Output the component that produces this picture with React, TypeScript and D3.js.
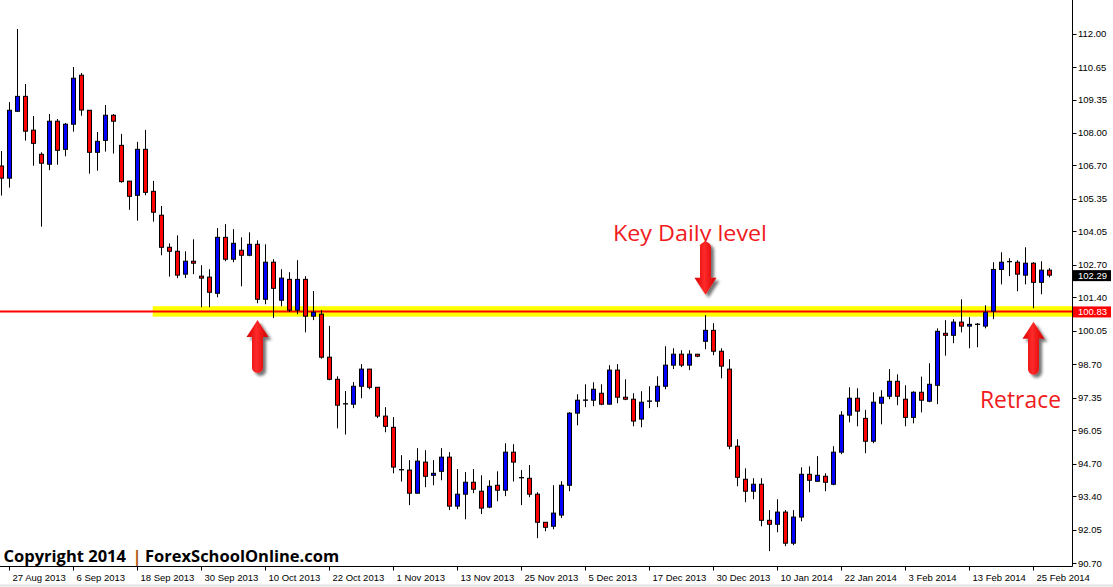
import React from "react";
import * as d3 from "d3";

// ---- data ----
const opens = [106.68,106.19,108.88,109.48,108.12,107.15,106.75,108.48,107.35,108.36,
110.33,108.92,107.23,107.71,108.72,107.51,106.07,105.50,107.35,105.66,
104.70,103.41,103.25,102.33,102.85,102.25,102.21,101.56,103.81,102.93,
103.29,103.09,103.53,101.32,102.81,101.28,102.12,100.88,102.12,100.64,
100.72,98.99,98.10,97.12,97.10,97.82,98.51,97.78,96.62,96.17,
94.47,94.45,93.52,94.77,94.24,94.40,94.97,93.00,93.48,93.96,
93.60,92.96,93.84,93.64,95.17,94.15,94.12,93.48,92.35,92.19,
92.64,93.84,96.74,97.26,97.26,97.54,97.10,98.47,97.38,97.30,
96.50,97.22,97.22,97.82,98.67,99.11,98.67,99.11,99.63,100.07,
99.23,98.51,95.41,94.08,93.60,93.88,92.43,92.27,92.76,91.51,
92.56,94.28,94.00,94.20,93.88,95.17,96.66,97.34,96.53,95.61,
97.14,97.42,98.02,97.30,96.57,97.58,97.22,97.86,99.95,99.87,
100.40,100.24,100.32,100.24,100.84,102.52,102.83,102.81,102.29,102.77,
102.00,102.49];

const closes = [106.19,108.92,109.48,108.08,107.59,106.79,108.48,107.31,108.36,110.21,
108.93,107.23,107.67,108.72,108.48,106.05,105.46,107.35,105.62,104.82,
103.41,103.25,102.29,102.85,102.77,102.17,101.60,103.81,102.93,103.57,
103.09,103.53,101.32,102.81,101.76,102.17,100.88,102.12,100.64,100.80,
98.99,98.10,97.06,97.11,97.82,98.51,97.78,96.62,96.21,94.57,
94.46,93.52,94.81,94.20,94.32,94.97,93.00,93.48,93.96,93.68,
92.92,93.80,93.64,95.17,94.77,94.14,93.48,92.35,92.15,92.72,
93.84,96.74,97.26,97.27,97.70,97.10,98.47,97.38,97.30,96.42,
97.18,97.23,97.82,98.67,99.11,98.67,99.11,99.03,100.07,99.23,
98.63,95.41,94.16,93.60,93.88,92.43,92.27,92.76,91.51,92.56,
94.28,94.04,94.24,93.96,95.17,96.66,97.34,96.82,95.61,97.18,
97.38,98.02,97.42,96.57,97.58,97.26,97.90,100.03,99.87,100.40,
100.24,100.31,100.31,100.80,102.52,102.81,102.84,102.33,102.77,102.00,
102.49,102.29];

const highs = [107.28,109.25,112.19,109.98,108.69,107.23,108.77,108.57,108.41,110.66,
110.42,108.93,108.05,109.13,108.77,107.97,106.08,107.65,108.13,106.08,
105.07,103.57,103.89,103.25,103.73,102.69,102.53,104.18,104.34,104.14,
103.81,104.01,103.69,103.53,102.93,102.53,102.41,102.89,102.25,101.65,
100.88,100.25,98.22,97.63,97.99,98.71,98.52,97.79,96.98,96.58,
95.05,94.85,95.33,95.25,94.85,95.33,95.17,94.49,94.37,94.49,
94.24,94.04,94.40,95.53,95.49,94.45,94.65,93.56,92.36,93.84,
94.00,96.78,97.50,97.90,97.98,97.90,98.67,98.71,98.10,97.54,
97.62,97.82,98.22,99.43,99.35,99.27,99.27,99.12,100.68,100.36,
99.35,98.91,95.69,94.52,94.12,94.12,92.84,93.28,92.84,92.84,
94.56,94.60,95.01,94.32,95.41,96.82,97.78,97.74,96.87,97.58,
97.66,98.51,98.30,97.86,97.62,98.21,98.75,100.15,100.48,100.52,
101.32,100.60,100.36,101.08,102.81,103.21,102.97,102.89,103.41,102.81,
102.85,102.57];

const lows = [105.49,105.81,108.86,107.70,106.69,104.24,106.51,106.73,107.07,108.06,
108.70,106.37,106.49,107.26,107.18,106.01,104.92,104.48,105.50,104.44,
103.09,102.23,102.17,102.17,102.33,101.00,101.00,101.40,102.85,102.81,
101.84,103.05,101.16,101.12,100.56,101.04,100.81,100.72,99.99,100.48,
98.93,98.06,96.13,95.88,96.94,97.34,97.70,96.54,95.97,94.32,
93.99,93.04,93.50,93.76,93.84,94.04,92.84,92.88,92.47,93.52,
92.68,92.92,93.20,93.40,93.99,93.04,93.36,91.71,91.99,92.07,
92.52,93.60,96.25,96.98,97.02,97.06,97.08,97.14,97.26,96.21,
96.17,96.94,96.98,97.70,98.51,98.59,98.47,98.99,99.31,99.07,
98.14,95.29,93.80,93.16,93.28,92.19,91.19,91.95,91.39,91.43,
92.39,93.56,93.99,93.60,93.84,95.09,96.37,96.21,95.13,95.53,
96.29,97.30,97.06,96.21,96.33,96.77,97.18,97.10,99.05,99.55,
99.99,99.35,99.39,100.15,100.52,101.92,102.25,101.64,101.92,100.96,
101.52,102.20];

const dateLabels = ["27 Aug 2013","6 Sep 2013","18 Sep 2013","30 Sep 2013","10 Oct 2013",
"22 Oct 2013","1 Nov 2013","13 Nov 2013","25 Nov 2013","5 Dec 2013","17 Dec 2013",
"30 Dec 2013","10 Jan 2014","22 Jan 2014","3 Feb 2014","13 Feb 2014","25 Feb 2014"];
const dateBars = [1,9,17,25,33,41,49,57,65,73,81,89,97,105,113,121,129];

const priceTicks = [112.00,110.65,109.35,108.00,106.70,105.35,104.05,102.70,101.40,
100.05,98.70,97.35,96.05,94.70,93.40,92.05,90.70];

const keyLevel = 100.83;
const lastPrice = 102.29;
const upArrows = [{ bar: 32, price: 100.49 }, { bar: 129, price: 100.42 }];
const downArrows = [{ bar: 88, price: 101.50 }];

// ---- layout ----
const W = 1113, H = 587;
const plotRight = 1072.5;
const plotBottom = 566.5;

const x = d3.scaleLinear().domain([0, 131]).range([1.5, 1049.5]);
const y = d3.scaleLinear().domain([113.355, 90.552]).range([0, 567]);

function arrowPath(cx: number, tipY: number, dir: number) {
  const hw = 11, hh = 17, sw = 5.5, len = 53;
  const p = (dy: number) => tipY + dir * dy;
  const sweep = dir > 0 ? 1 : 0;
  return `M${cx},${tipY} L${cx + hw},${p(hh)} L${cx + sw},${p(hh)} L${cx + sw},${p(len - sw)} ` +
    `A${sw},${sw} 0 0 ${sweep} ${cx - sw},${p(len - sw)} L${cx - sw},${p(hh)} L${cx - hw},${p(hh)} Z`;
}

export default function App() {
  const axisFont = "'Liberation Sans', Arial, sans-serif";
  const annFont = "'Open Sans', 'DejaVu Sans', sans-serif";
  const copyFont = "'Open Sans', 'Liberation Sans', sans-serif";
  const red = "#f01a20";
  return (
    <svg width={W} height={H} style={{ position: "absolute", left: 0, top: 0 }}
      xmlns="http://www.w3.org/2000/svg">
      <defs>
        <linearGradient id="arrowGrad" x1="0" x2="1" y1="0" y2="0">
          <stop offset="0" stopColor="#d80000" />
          <stop offset="0.45" stopColor="#ff2a2a" />
          <stop offset="1" stopColor="#d00000" />
        </linearGradient>
        <filter id="shadow" x="-50%" y="-50%" width="200%" height="200%">
          <feDropShadow dx="3" dy="3" stdDeviation="1.6" floodColor="#000" floodOpacity="0.55" />
        </filter>
      </defs>
      <rect x={0} y={0} width={W} height={H} fill="#ffffff" />

      {/* key level band and line */}
      <rect x={x(18.9)} y={y(keyLevel + 0.21)} width={plotRight - x(18.9)}
        height={y(keyLevel - 0.21) - y(keyLevel + 0.21)} fill="#ffff00" />
      <line x1={0} x2={plotRight} y1={Math.round(y(keyLevel)) + 0.5} y2={Math.round(y(keyLevel)) + 0.5}
        stroke="#ff0000" strokeWidth={2} />

      {/* candles */}
      {opens.map((o, i) => {
        const c = closes[i];
        const cx = x(i);
        const top = y(Math.max(o, c));
        const bot = y(Math.min(o, c));
        const bull = c >= o;
        return (
          <g key={i}>
            <line x1={cx} x2={cx} y1={y(highs[i])} y2={y(lows[i])} stroke="#000" strokeWidth={1} />
            <rect x={cx - 2} y={top} width={4} height={Math.max(bot - top, 0.3)}
              fill={bull ? "#0000ff" : "#ff0000"} stroke="#000" strokeWidth={1} />
          </g>
        );
      })}

      {/* plot frame */}
      <line x1={plotRight} x2={plotRight} y1={0} y2={plotBottom} stroke="#000" strokeWidth={1} />
      <line x1={0} x2={plotRight} y1={plotBottom} y2={plotBottom} stroke="#000" strokeWidth={1} />

      {/* price axis */}
      {priceTicks.map((t) => (
        <g key={t}>
          <line x1={plotRight} x2={plotRight + 4} y1={Math.round(y(t)) + 0.5} y2={Math.round(y(t)) + 0.5}
            stroke="#000" strokeWidth={1} />
          <text x={1078} y={y(t)} dy="0.35em" fontFamily={axisFont} fontSize={9.5} fill="#000">
            {t.toFixed(2)}
          </text>
        </g>
      ))}
      <rect x={plotRight + 0.5} y={y(lastPrice) - 5} width={38} height={11} fill="#000" />
      <text x={1078} y={y(lastPrice) + 0.5} dy="0.35em" fontFamily={axisFont} fontSize={9.5} fill="#fff">
        {lastPrice.toFixed(2)}
      </text>
      <rect x={plotRight + 0.5} y={y(keyLevel) - 5} width={38} height={11} fill="#ff0000" />
      <text x={1078} y={y(keyLevel) + 0.5} dy="0.35em" fontFamily={axisFont} fontSize={9.5} fill="#fff">
        {keyLevel.toFixed(2)}
      </text>

      {/* time axis */}
      {dateBars.map((b, k) => (
        <g key={b}>
          <line x1={x(b)} x2={x(b)} y1={plotBottom} y2={plotBottom + 4} stroke="#000" strokeWidth={1} />
          <text x={x(b) + 3} y={580.5} fontFamily={axisFont} fontSize={9.5} fill="#000">
            {dateLabels[k]}
          </text>
        </g>
      ))}
      <line x1={0} x2={W} y1={585.5} y2={585.5} stroke="#e2e2e2" strokeWidth={2} />

      {/* annotations */}
      <text x={613} y={241} fontFamily={annFont} fontSize={22} fill={red}
        textLength={154} lengthAdjust="spacingAndGlyphs">Key Daily level</text>
      <text x={980} y={408} fontFamily={annFont} fontSize={24} fill={red}
        textLength={81} lengthAdjust="spacingAndGlyphs">Retrace</text>
      {upArrows.map((a, i) => (
        <path key={"u" + i} d={arrowPath(x(a.bar), y(a.price), 1)} fill="url(#arrowGrad)" filter="url(#shadow)" />
      ))}
      {downArrows.map((a, i) => (
        <path key={"d" + i} d={arrowPath(x(a.bar), y(a.price), -1)} fill="url(#arrowGrad)" filter="url(#shadow)" />
      ))}

      {/* copyright */}
      <text x={3.5} y={561.5} fontFamily={copyFont} fontWeight="bold" fontSize={16.5}
        fill="#000">Copyright 2014</text>
      <text x={132.5} y={561.5} fontFamily={copyFont} fontWeight="bold" fontSize={16.5}
        fill="#b0580c">|</text>
      <text x={145} y={561.5} fontFamily={copyFont} fontWeight="bold" fontSize={16.5}
        fill="#000">ForexSchoolOnline.com</text>
    </svg>
  );
}
